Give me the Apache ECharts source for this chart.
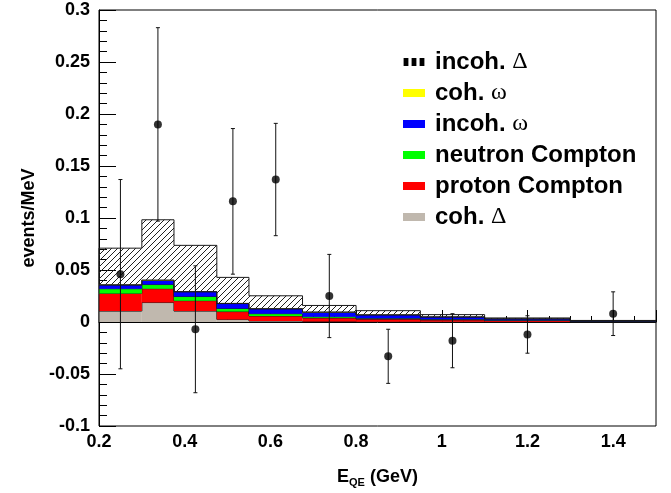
<!DOCTYPE html>
<html>
<head>
<meta charset="utf-8">
<script src="https://cdn.jsdelivr.net/npm/echarts@6/dist/echarts.min.js"></script>
<style>
	html, body { margin: 0; padding: 0; background: #fff; }
	#main { width: 671px; height: 493px; }
</style>
</head>
<body>
<div id="main"></div>
<script>
// histogram bins (GeV)
var binEdges = [0.2, 0.3, 0.375, 0.475, 0.55, 0.675, 0.8, 0.95, 1.1, 1.3, 1.5];

// stacked contributions, bottom to top (events/MeV)
var cohDelta = [0.0105, 0.0187, 0.0105, 0.0025, 0.001, 0.0005, 0.0003, 0.0002, 0.0001, 0.0];
var protonCompton = [0.017, 0.0133, 0.010, 0.0075, 0.0048, 0.0034, 0.0025, 0.0018, 0.0012, 0.0005];
var neutronCompton = [0.0045, 0.004, 0.004, 0.003, 0.0022, 0.0011, 0.0008, 0.0006, 0.0004, 0.0002];
var incohOmega = [0.0035, 0.004, 0.0045, 0.0047, 0.0046, 0.0044, 0.0032, 0.0022, 0.0013, 0.0005];
var cohOmega = [0.0003, 0.0003, 0.0002, 0.0002, 0.0002, 0.0001, 0.0001, 0.0001, 0.0, 0.0];
var incohDelta = [0.0352, 0.058, 0.0445, 0.025, 0.0124, 0.0064, 0.004, 0.0022, 0.0009, 0.0003];

// measured points with errors
var dataX = [0.25, 0.3375, 0.425, 0.5125, 0.6125, 0.7375, 0.875, 1.025, 1.2, 1.4];
var dataY = [0.046, 0.19, -0.007, 0.116, 0.137, 0.025, -0.033, -0.018, -0.012, 0.008];
var dataErr = [0.091, 0.093, 0.061, 0.07, 0.054, 0.04, 0.026, 0.026, 0.018, 0.021];

var yTicks = [-0.1, -0.05, 0, 0.05, 0.1, 0.15, 0.2, 0.25, 0.3];
var xTicks = [0.2, 0.4, 0.6, 0.8, 1, 1.2, 1.4];

var FONT = 'Liberation Sans, Arial, Helvetica, sans-serif';
var LINE_COLOR = '#1a1a1a';

// order of stacking, bottom first
var layers = [
	{ name: 'coh. Δ', values: cohDelta, color: '#c0b8ae' },
	{ name: 'proton Compton', values: protonCompton, color: '#ff0000' },
	{ name: 'neutron Compton', values: neutronCompton, color: '#00ff00' },
	{ name: 'incoh. ω', values: incohOmega, color: '#0000ff' },
	{ name: 'coh. ω', values: cohOmega, color: '#ffff00' },
	{ name: 'incoh. Δ', values: incohDelta, color: 'hatch' }
];

function makeHatch() {
	var c = document.createElement('canvas');
	c.width = 6;
	c.height = 6;
	var ctx = c.getContext('2d');
	ctx.strokeStyle = '#222';
	ctx.lineWidth = 1;
	ctx.beginPath();
	ctx.moveTo(-1, 7); ctx.lineTo(7, -1);
	ctx.moveTo(-1, 1); ctx.lineTo(1, -1);
	ctx.moveTo(5, 7); ctx.lineTo(7, 5);
	ctx.stroke();
	return c;
}

function buildStack() {
	var base = [];
	for (var i = 0; i < binEdges.length - 1; i++) base.push(0);
	var out = [];
	for (var l = 0; l < layers.length; l++) {
		var rows = [];
		var tops = [];
		for (var j = 0; j < base.length; j++) {
			tops.push(base[j] + layers[l].values[j]);
		}
		for (var k = 0; k < base.length; k++) {
			var prev = k == 0 ? base[k] : tops[k - 1];
			rows.push([binEdges[k], binEdges[k + 1], base[k], tops[k], prev]);
		}
		out.push(rows);
		base = tops;
	}
	return out;
}

function binRenderer(fill) {
	return function(params, api) {
		var x0 = api.value(0), x1 = api.value(1);
		var tl = api.coord([x0, api.value(3)]);
		var br = api.coord([x1, api.value(2)]);
		var pv = api.coord([x0, api.value(4)]);
		return {
			type: 'group',
			children: [{
				type: 'rect',
				shape: { x: tl[0], y: tl[1], width: br[0] - tl[0], height: br[1] - tl[1] },
				style: { fill: fill }
			}, {
				type: 'polyline',
				shape: { points: [pv, [tl[0], tl[1]], [br[0], tl[1]]] },
				style: { stroke: LINE_COLOR, lineWidth: 1, fill: null }
			}]
		};
	};
}

function renderError(params, api) {
	var x = api.value(0), y = api.value(1), e = api.value(2);
	var hi = api.coord([x, y + e]);
	var lo = api.coord([x, y - e]);
	var cap = 2;
	return {
		type: 'group',
		children: [
			{ type: 'line', shape: { x1: hi[0], y1: hi[1], x2: lo[0], y2: lo[1] }, style: { stroke: '#111', lineWidth: 1 } },
			{ type: 'line', shape: { x1: hi[0] - cap, y1: hi[1], x2: hi[0] + cap, y2: hi[1] }, style: { stroke: '#111', lineWidth: 1 } },
			{ type: 'line', shape: { x1: lo[0] - cap, y1: lo[1], x2: lo[0] + cap, y2: lo[1] }, style: { stroke: '#111', lineWidth: 1 } }
		]
	};
}

function initChart() {
	var myChart = echarts.init(document.getElementById('main'), null, { renderer: 'canvas' });
	var stack = buildStack();
	var hatch = { image: makeHatch(), repeat: 'repeat' };
	var series = [];

	for (var l = 0; l < layers.length; l++) {
		var fill = layers[l].color == 'hatch' ? hatch : layers[l].color;
		series.push({
			name: layers[l].name,
			type: 'custom',
			renderItem: binRenderer(fill),
			itemStyle: { color: layers[l].color == 'hatch' ? '#000' : layers[l].color },
			encode: { x: [0, 1], y: [2, 3] },
			data: stack[l],
			z: 2
		});
	}

	var pts = [];
	var errs = [];
	for (var i = 0; i < dataX.length; i++) {
		pts.push([dataX[i], dataY[i]]);
		errs.push([dataX[i], dataY[i], dataErr[i]]);
	}
	series.push({
		name: 'errors',
		type: 'custom',
		renderItem: renderError,
		encode: { x: 0, y: 1 },
		data: errs,
		z: 5
	});
	series.push({
		name: 'data',
		type: 'scatter',
		symbol: 'circle',
		symbolSize: 8,
		itemStyle: { color: '#000' },
		data: pts,
		z: 6
	});

	var greek = { fontFamily: 'Liberation Serif, DejaVu Serif, serif', fontWeight: 'normal', fontSize: 24, lineHeight: 24, color: '#000' };

	var option = {
		animation: false,
		backgroundColor: '#fff',
		grid: {
			left: 99, top: 10, right: 15, bottom: 66,
			show: true, borderColor: '#000', borderWidth: 1, backgroundColor: 'transparent'
		},
		legend: {
			orient: 'vertical',
			left: 398,
			top: 45,
			itemWidth: 22,
			itemHeight: 8,
			itemGap: 7,
			icon: 'rect',
			textStyle: {
				fontFamily: FONT, fontWeight: 'bold', fontSize: 24, lineHeight: 24, color: '#000',
				padding: [0, 0, 0, 5],
				rich: { g: greek }
			},
			formatter: function(name) {
				return name.replace('Δ', '{g|Δ}').replace('ω', '{g|ω}');
			},
			data: [
				{ name: 'incoh. Δ', icon: 'path://M0,0h3v5h-3z M5,0h3v5h-3z M10,0h3v5h-3z', itemStyle: { color: '#000' } },
				{ name: 'coh. ω' },
				{ name: 'incoh. ω' },
				{ name: 'neutron Compton' },
				{ name: 'proton Compton' },
				{ name: 'coh. Δ' }
			]
		},
		xAxis: {
			type: 'value',
			min: xTicks[0],
			max: 1.5,
			interval: 0.2,
			name: 'E{sub|QE} (GeV)',
			nameLocation: 'middle',
			nameGap: 41,
			nameTextStyle: {
				fontFamily: FONT, fontWeight: 'bold', fontSize: 18, color: '#000',
				rich: { sub: { fontFamily: FONT, fontWeight: 'bold', fontSize: 11, padding: [10, 0, 0, 0], color: '#000' } }
			},
			axisLine: { lineStyle: { color: '#000', width: 1 } },
			axisTick: { inside: true, length: 12, lineStyle: { color: '#000' } },
			minorTick: { show: true, splitNumber: 4, length: 6, lineStyle: { color: '#000' } },
			splitLine: { show: false },
			axisLabel: {
				fontFamily: FONT, fontWeight: 'bold', fontSize: 18, color: '#000', margin: 7,
				showMaxLabel: false,
				formatter: function(v) { return String(parseFloat(v.toFixed(2))); }
			}
		},
		yAxis: {
			type: 'value',
			min: yTicks[0],
			max: yTicks[yTicks.length - 1],
			interval: 0.05,
			name: 'events/MeV',
			nameLocation: 'middle',
			nameGap: 58,
			nameTextStyle: { fontFamily: FONT, fontWeight: 'bold', fontSize: 18, color: '#000' },
			axisLine: { show: true, lineStyle: { color: '#000', width: 1 } },
			axisTick: { inside: true, length: 17, lineStyle: { color: '#000' } },
			minorTick: { show: true, splitNumber: 5, length: 8, lineStyle: { color: '#000' } },
			splitLine: { show: false },
			axisLabel: {
				fontFamily: FONT, fontWeight: 'bold', fontSize: 18, color: '#000', margin: 9,
				formatter: function(v) { return String(parseFloat(v.toFixed(2))); }
			}
		},
		series: series
	};
	myChart.setOption(option);
}

initChart();
</script>
</body>
</html>
